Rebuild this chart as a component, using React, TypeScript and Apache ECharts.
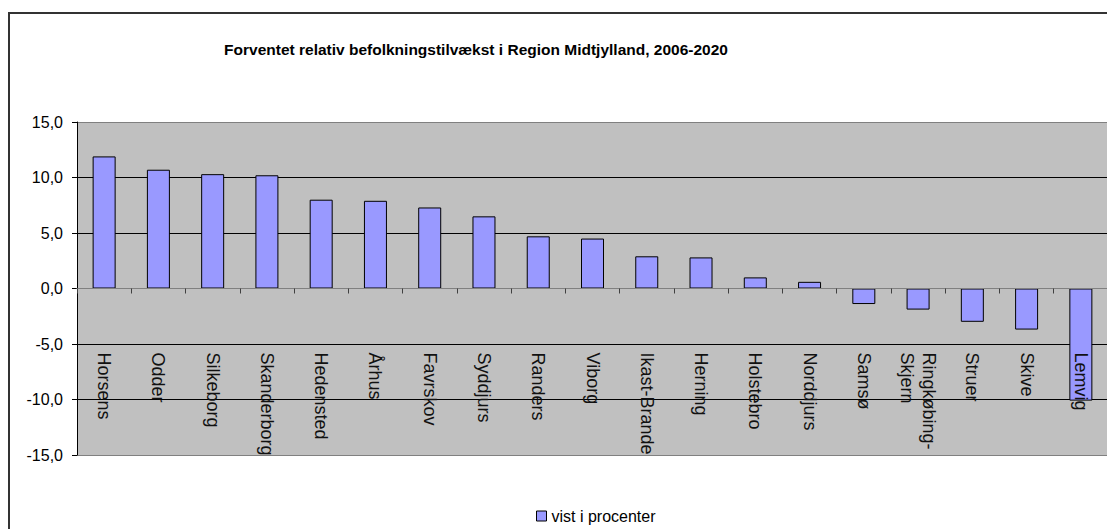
import React, { useEffect, useRef } from "react";
import * as echarts from "echarts";

const titleText = "Forventet relativ befolkningstilvækst i Region Midtjylland, 2006-2020";
const seriesName = "vist i procenter";
const categories = [
  "Horsens", "Odder", "Silkeborg", "Skanderborg", "Hedensted", "Århus", "Favrskov",
  "Syddjurs", "Randers", "Viborg", "Ikast-Brande", "Herning", "Holstebro", "Norddjurs",
  "Samsø", "Ringkøbing-\nSkjern", "Struer", "Skive", "Lemvig",
];
const values = [11.9, 10.7, 10.3, 10.2, 8.0, 7.9, 7.3, 6.5, 4.7, 4.5, 2.9, 2.8, 1.0, 0.6, -1.4, -1.9, -3.0, -3.7, -10.1];
const yMin = -15;
const yMax = 15;
const yStep = 5;

const FONT = "'Liberation Sans', Arial, sans-serif";
const GRID_TOP = 122;
const GRID_H = 333;

export default function App() {
  const ref = useRef<HTMLDivElement>(null);
  useEffect(() => {
    document.body.style.margin = "0";
    const chart = echarts.init(ref.current!, undefined, { renderer: "svg" });
    // pixel distance of the zero line above the grid bottom, from the axis range
    const zeroOffset = (GRID_H * (0 - yMin)) / (yMax - yMin);
    chart.setOption({
      animation: false,
      backgroundColor: "#ffffff",
      title: {
        text: titleText,
        left: 471,
        top: 36,
        textAlign: "center",
        textStyle: { fontFamily: FONT, fontWeight: "bold", fontSize: 15.5, color: "#000" },
      },
      graphic: [
        {
          type: "rect",
          shape: { x: 9, y: 13, width: 1200, height: 600 },
          style: { fill: "none", stroke: "#333333", lineWidth: 2 },
          silent: true,
        },
      ],
      legend: {
        data: [seriesName],
        left: 531,
        top: 503,
        icon: "rect",
        itemWidth: 10,
        itemHeight: 10,
        itemGap: 5,
        textStyle: { fontFamily: FONT, fontSize: 16, color: "#000" },
        itemStyle: { borderColor: "#000", borderWidth: 1 },
      },
      grid: {
        left: 77,
        top: GRID_TOP,
        width: 1031,
        height: GRID_H,
        show: true,
        backgroundColor: "#C0C0C0",
        borderWidth: 0,
        containLabel: false,
        outerBoundsMode: "none",
      },
      xAxis: {
        type: "category",
        data: categories,
        position: "bottom",
        offset: -zeroOffset,
        z: 5,
        axisLine: { onZero: false, lineStyle: { color: "#808080", width: 1 } },
        axisTick: { show: true, length: 5, lineStyle: { color: "#404040" } },
        axisLabel: {
          rotate: -90,
          margin: 64,
          interval: 0,
          fontFamily: FONT,
          fontSize: 18,
          color: "#111",
          lineHeight: 22,
        },
      },
      yAxis: {
        type: "value",
        min: yMin,
        max: yMax,
        interval: yStep,
        axisLine: { show: true, onZero: false, lineStyle: { color: "#000", width: 1 } },
        axisTick: { show: true, length: 5, lineStyle: { color: "#000" } },
        axisLabel: {
          margin: 14,
          fontFamily: FONT,
          fontSize: 16,
          color: "#000",
          formatter: (v: number) => v.toFixed(1).replace(".", ","),
        },
        splitLine: {
          show: true,
          lineStyle: {
            color: ["#808080", "#000", "#000", "#808080", "#000", "#000", "#808080"],
            width: 1,
          },
        },
      },
      series: [
        {
          name: seriesName,
          type: "bar",
          data: values,
          barWidth: 23,
          itemStyle: { color: "#9999FF", borderColor: "#000", borderWidth: 1 },
        },
      ],
    });
    return () => chart.dispose();
  }, []);
  return <div ref={ref} style={{ position: "absolute", left: 0, top: 0, width: 1107, height: 529 }} />;
}
